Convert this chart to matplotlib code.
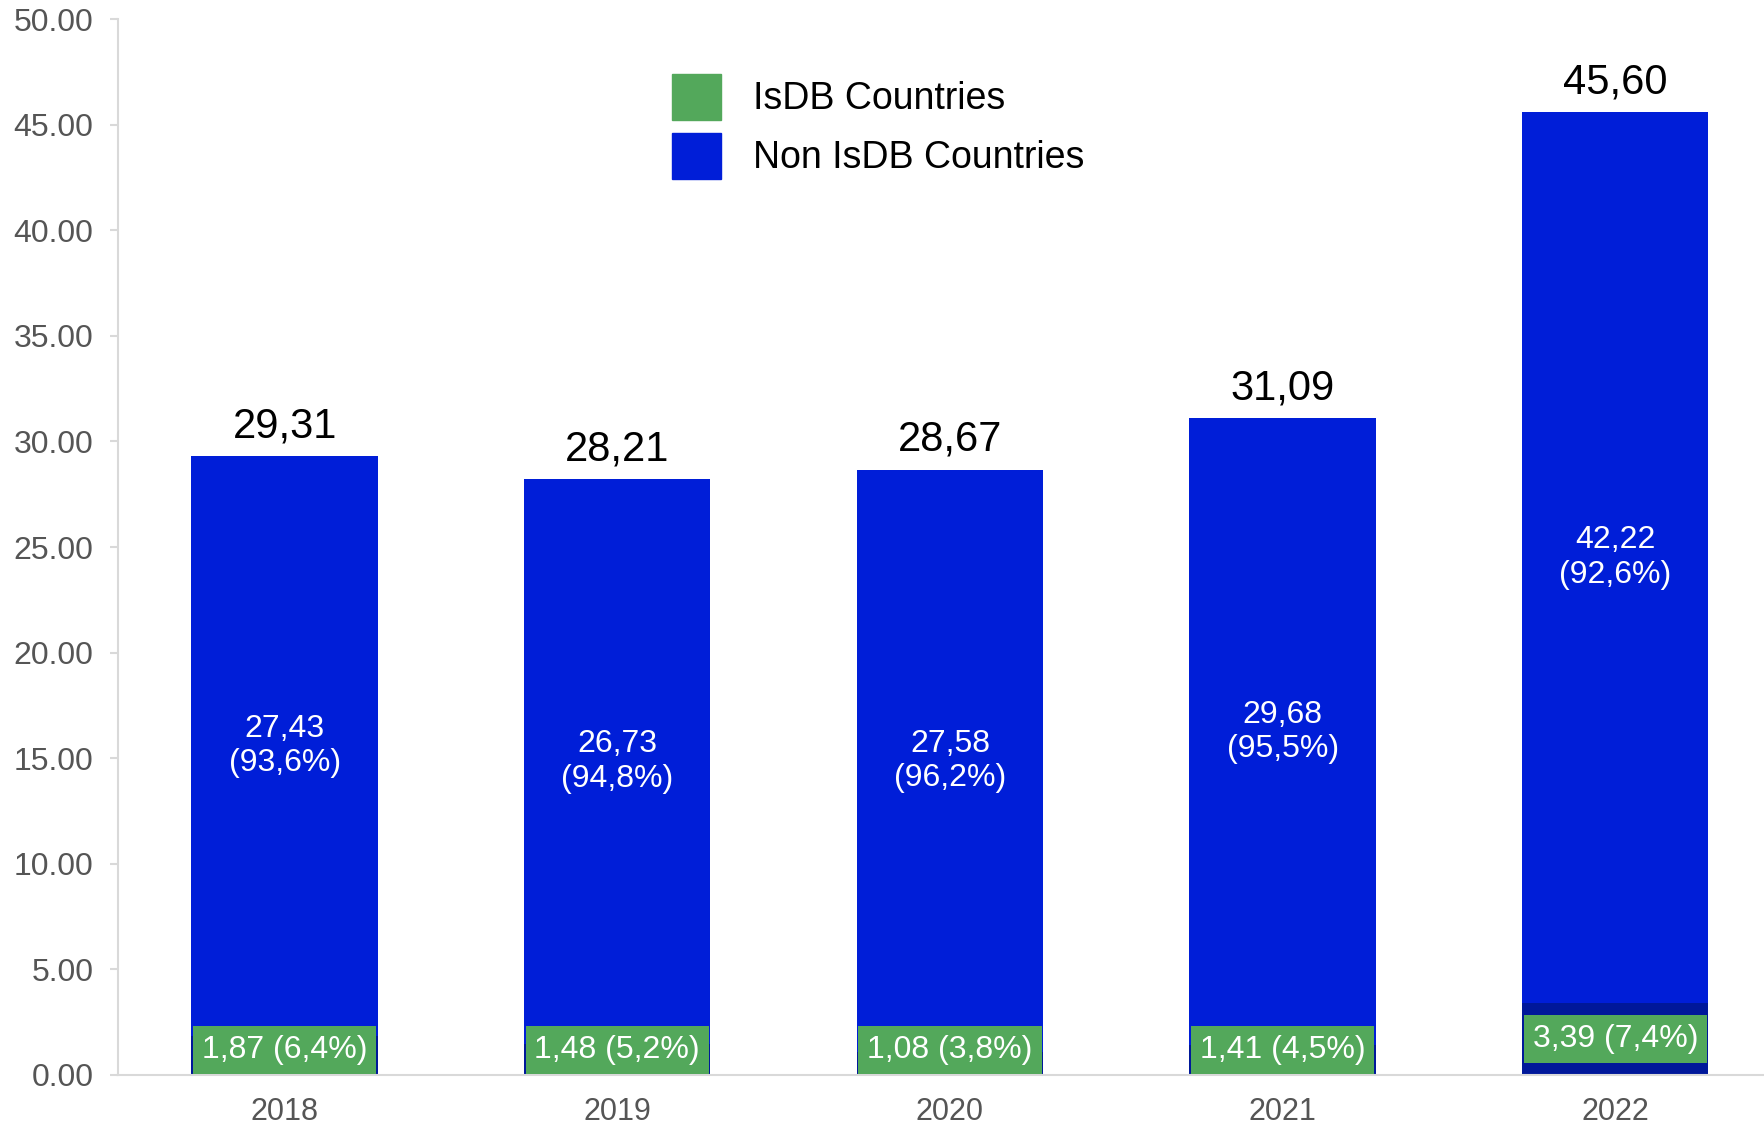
import matplotlib.pyplot as plt
import numpy as np

plt.rcParams['font.family'] = ['Liberation Sans', 'DejaVu Sans']

years = ['2018', '2019', '2020', '2021', '2022']
isdb = [1.87, 1.48, 1.08, 1.41, 3.39]
non_isdb = [27.43, 26.73, 27.58, 29.68, 42.22]
totals = [29.31, 28.21, 28.67, 31.09, 45.60]
isdb_pct = ['6,4%', '5,2%', '3,8%', '4,5%', '7,4%']
non_pct = ['93,6%', '94,8%', '96,2%', '95,5%', '92,6%']

c_green = '#53a85b'
c_blue = '#001ed8'
c_navy = '#00189a'

def fmt(v):
    return f'{v:.2f}'.replace('.', ',')

fig = plt.figure(figsize=(17.65, 11.24), dpi=100)
ax = fig.add_axes([0.067, 0.0436, 0.933, 0.9394])

x = np.arange(len(years))
w = 0.56
ax.bar(x, isdb, w, color=c_navy, zorder=2)
ax.bar(x, non_isdb, w, bottom=isdb, color=c_blue, zorder=2)

# labels
for i in range(len(years)):
    ax.text(x[i], max(isdb[i] / 2, 1.2), f'{fmt(isdb[i])} ({isdb_pct[i]})',
            ha='center', va='center', color='white', fontsize=23, zorder=4,
            bbox=dict(boxstyle='square,pad=0.28', fc=c_green, ec='none'))
    ax.text(x[i], isdb[i] + non_isdb[i] / 2, f'{fmt(non_isdb[i])}\n({non_pct[i]})',
            ha='center', va='center', color='white', fontsize=23, linespacing=1.2, zorder=4)
    ax.annotate(fmt(totals[i]), (x[i], totals[i]), xytext=(0, 7), textcoords='offset points',
                ha='center', va='bottom', fontsize=30, color='black')

# legend
hg = plt.Rectangle((0, 0), 1, 1, color=c_green)
hb = plt.Rectangle((0, 0), 1, 1, color=c_blue)
ax.legend([hg, hb], ['IsDB Countries', 'Non IsDB Countries'], loc='upper left',
          bbox_to_anchor=(0.316, 0.98), frameon=False, fontsize=27,
          handlelength=1.3, handleheight=1.5, handletextpad=0.85, labelspacing=0.35)

ax.set_xlim(-0.5, 4.45)
ax.set_ylim(0, 50)
ax.set_yticks(np.arange(0, 50.1, 5))
ax.set_yticklabels([f'{v:.2f}' for v in np.arange(0, 50.1, 5)])
ax.set_xticks(x)
ax.set_xticklabels(years)
ax.tick_params(axis='y', labelsize=23, labelcolor='#555555', color='#d9d9d9', length=6, width=1.5, pad=12)
ax.tick_params(axis='x', labelsize=22, labelcolor='#555555', length=0, pad=16)
for s in ['top', 'right']:
    ax.spines[s].set_visible(False)
ax.spines['left'].set_color('#d9d9d9')
ax.spines['bottom'].set_color('#d9d9d9')
ax.spines['left'].set_linewidth(1.5)
ax.spines['bottom'].set_linewidth(1.5)

fig.savefig('out.png', dpi=100)
